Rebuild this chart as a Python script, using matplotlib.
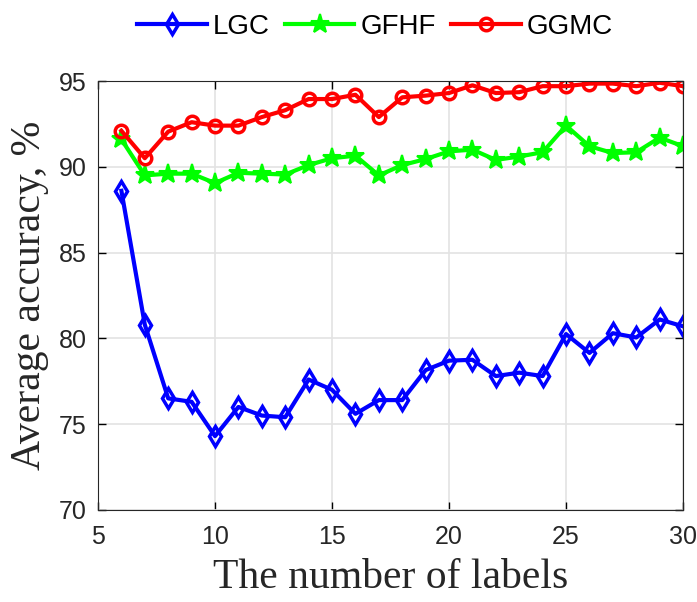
import matplotlib.pyplot as plt

labels = list(range(6, 31))

lgc = [88.6, 80.8, 76.5, 76.3, 74.3, 76.0, 75.5, 75.4, 77.6, 77.0, 75.6, 76.4, 76.4,
       78.15, 78.7, 78.75, 77.8, 78.0, 77.8, 80.25, 79.15, 80.3, 80.05, 81.1, 80.7]
gfhf = [91.6, 89.5, 89.6, 89.6, 89.05, 89.65, 89.6, 89.55, 90.1, 90.5, 90.65, 89.5, 90.1,
        90.45, 90.9, 91.0, 90.4, 90.6, 90.85, 92.4, 91.2, 90.8, 90.85, 91.7, 91.2]
ggmc = [92.1, 90.5, 92.05, 92.6, 92.4, 92.4, 92.9, 93.3, 93.95, 93.95, 94.2, 92.9, 94.05,
        94.15, 94.3, 94.75, 94.3, 94.35, 94.7, 94.7, 94.85, 94.85, 94.7, 94.9, 94.7]

xticks = [5, 10, 15, 20, 25, 30]
yticks = [70, 75, 80, 85, 90, 95]

fig = plt.figure(figsize=(6.97, 6.02), dpi=100)
ax = fig.add_axes([0.1406, 0.153, 0.8394, 0.7124])

ax.plot(labels, lgc, color='b', linewidth=3, marker='d', markersize=10,
        markerfacecolor='none', markeredgewidth=2.5, label='LGC')
ax.plot(labels, gfhf, color='#00ff00', linewidth=3, marker='*', markersize=14,
        markeredgewidth=1.5, label='GFHF')
ax.plot(labels, ggmc, color='r', linewidth=3, marker='o', markersize=9,
        markerfacecolor='none', markeredgewidth=2.5, label='GGMC')

ax.set_xlim(5, 30)
ax.set_ylim(70, 95)
ax.set_xticks(xticks)
ax.set_yticks(yticks)
ax.grid(True, color='#e3e3e3', linewidth=1.2)
ax.set_axisbelow(True)
ax.tick_params(direction='in', top=True, right=True, length=6, width=1,
               labelsize=18, pad=8)
ax.tick_params(axis='x', pad=11)
for lab in ax.get_xticklabels() + ax.get_yticklabels():
    lab.set_fontfamily('Liberation Sans')
    lab.set_color('#262626')
for s in ax.spines.values():
    s.set_color('#262626')

ax.set_xlabel('The number of labels', fontsize=30, family='Liberation Serif',
              color='#262626', labelpad=7)
ax.set_ylabel('Average accuracy, %', fontsize=30, family='Liberation Serif',
              color='#262626', labelpad=7)

fig.legend(loc='center', bbox_to_anchor=(0.538, 0.955), ncol=3, frameon=False,
           prop={'family': 'Liberation Sans', 'size': 20}, handlelength=2.5,
           columnspacing=0.55, handletextpad=0.22, borderpad=0.1)

fig.savefig('out.png', dpi=100)
